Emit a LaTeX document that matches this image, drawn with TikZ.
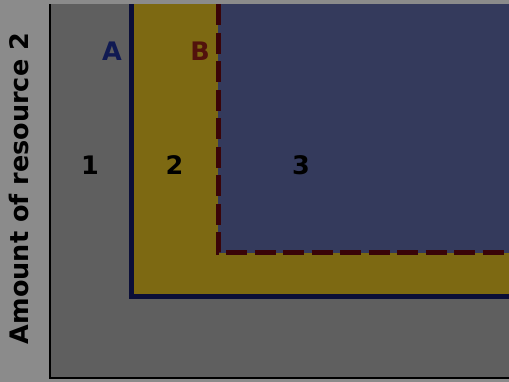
\documentclass[tikz,border=0pt]{standalone}
\usepackage{fontspec}
\setmainfont{DejaVu Sans}
\newfontfamily\heavyfont{DejaVu Sans Bold}
\usetikzlibrary{positioning}
\definecolor{OuterGray}{RGB}{139,139,139}
\definecolor{PlotGray}{RGB}{95,95,95}
\definecolor{OliveBand}{RGB}{125,105,18}
\definecolor{SlateBlue}{RGB}{52,58,92}
\definecolor{LineNavy}{RGB}{10,14,56}
\definecolor{LineMaroon}{RGB}{58,4,8}
\definecolor{LabelNavy}{RGB}{16,26,82}
\definecolor{LabelMaroon}{RGB}{82,18,12}

\begin{document}
\begin{tikzpicture}[x=1pt, y=-1pt, font=\heavyfont\fontsize{25.5}{28}\selectfont]
\tikzset{
  region/.style={draw=none},
  lbl/.style={inner sep=0pt, anchor=center},
  bound/.style={line width=5pt, line join=miter},
  axis/.style={line width=1.3pt, black}
}
  % background and plot area
  \fill[OuterGray] (0,0) rectangle (509,382);
  \fill[PlotGray] (50,4.5) rectangle (509,378);
  \useasboundingbox (0,0) rectangle (509,382);

  % regions
  \fill[region, OliveBand] (131,4.5) rectangle (509,297);
  \fill[region, SlateBlue] (218,4.5) rectangle (509,253);

  % boundaries
  \coordinate (atop) at (131,4.5);
  \coordinate (acorner) at (131,297);
  \coordinate (aend) at (509,297);
  \coordinate (btop) at (218,4.5);
  \coordinate (bcorner) at (218,253);
  \coordinate (bend) at (509,253);
  \draw[bound, LineNavy] (atop) -- (acorner) -- (aend);
  \draw[bound, LineMaroon, dash pattern=on 21pt off 7.5pt] (btop) -- (bcorner) -- (bend);

  % axes
  \coordinate (origin) at (50,378);
  \coordinate (ytop) at (50,4.5);
  \coordinate (xend) at (509,378);
  \draw[axis] (ytop) -- (origin) -- (xend);

  % labels
  \node[lbl, text=LabelNavy] (labA) at (112,51) {A};
  \node[lbl, text=LabelMaroon] (labB) at (200,51) {B};
  \node[lbl] (one) at (90,165) {1};
  \node[lbl] (two) at (174.5,165) {2};
  \node[lbl] (three) at (301,165) {3};
  \node[lbl, rotate=90] (ylabel) at (19,188.5) {Amount of resource 2};
\end{tikzpicture}
\end{document}
